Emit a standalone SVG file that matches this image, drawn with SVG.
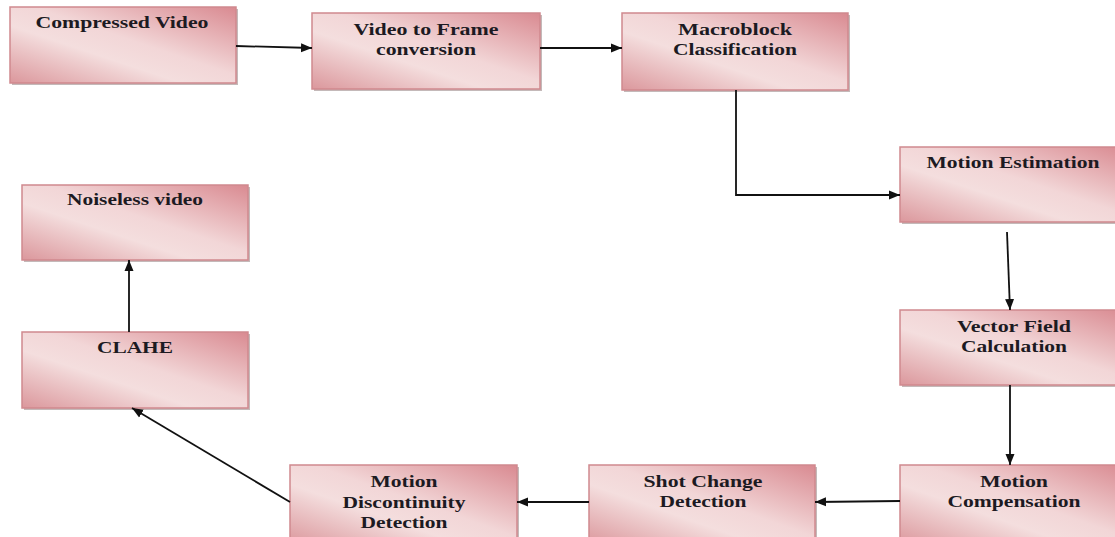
<svg xmlns="http://www.w3.org/2000/svg" width="1115" height="537" viewBox="0 0 1115 537">
<defs>
<linearGradient id="g" x1="1" y1="0" x2="0" y2="1">
<stop offset="0" stop-color="#d98a91"/>
<stop offset="0.45" stop-color="#f2d6d7"/>
<stop offset="0.62" stop-color="#f4dede"/>
<stop offset="1" stop-color="#db979c"/>
</linearGradient>
<marker id="ah" markerUnits="userSpaceOnUse" markerWidth="12" markerHeight="10" refX="11" refY="5" orient="auto">
<path d="M0,0.5 L11,5 L0,9.5 z" fill="#111"/>
</marker>
</defs>
<style>
.box{fill:url(#g);stroke:#d0898e;stroke-width:1.5}
.sh{fill:#9c8a8a;opacity:0.6}
.t{font-family:"Liberation Serif","Times New Roman",serif;font-weight:bold;font-size:17px;fill:#1c1a22;text-anchor:middle}
.c{fill:none;stroke:#111;stroke-width:1.8;marker-end:url(#ah)}
</style>
<rect width="1115" height="537" fill="#fff"/>

<g id="n1">
<rect class="sh" x="12" y="9" width="226" height="76"/>
<rect class="box" x="10" y="7" width="226" height="76"/>
<text class="t" x="122" y="28" textLength="173" lengthAdjust="spacingAndGlyphs">Compressed Video</text>
</g>
<g id="n2">
<rect class="sh" x="314" y="15" width="228" height="76"/>
<rect class="box" x="312" y="13" width="228" height="76"/>
<text class="t" x="426" y="35" textLength="145" lengthAdjust="spacingAndGlyphs">Video to Frame</text>
<text class="t" x="426" y="55" textLength="100" lengthAdjust="spacingAndGlyphs">conversion</text>
</g>
<g id="n3">
<rect class="sh" x="624" y="15" width="226" height="77"/>
<rect class="box" x="622" y="13" width="226" height="77"/>
<text class="t" x="735" y="35" textLength="114" lengthAdjust="spacingAndGlyphs">Macroblock</text>
<text class="t" x="735" y="55" textLength="124" lengthAdjust="spacingAndGlyphs">Classification</text>
</g>
<g id="n4">
<rect class="sh" x="902" y="149" width="226" height="75"/>
<rect class="box" x="900" y="147" width="226" height="75"/>
<text class="t" x="1013" y="168" textLength="173" lengthAdjust="spacingAndGlyphs">Motion Estimation</text>
</g>
<g id="n5">
<rect class="sh" x="902" y="312" width="226" height="75"/>
<rect class="box" x="900" y="310" width="226" height="75"/>
<text class="t" x="1014" y="332" textLength="114" lengthAdjust="spacingAndGlyphs">Vector Field</text>
<text class="t" x="1014" y="352" textLength="106" lengthAdjust="spacingAndGlyphs">Calculation</text>
</g>
<g id="n6">
<rect class="sh" x="902" y="467" width="226" height="80"/>
<rect class="box" x="900" y="465" width="226" height="80"/>
<text class="t" x="1014" y="487" textLength="68" lengthAdjust="spacingAndGlyphs">Motion</text>
<text class="t" x="1014" y="507" textLength="133" lengthAdjust="spacingAndGlyphs">Compensation</text>
</g>
<g id="n7">
<rect class="sh" x="591" y="467" width="226" height="80"/>
<rect class="box" x="589" y="465" width="226" height="80"/>
<text class="t" x="703" y="487" textLength="119" lengthAdjust="spacingAndGlyphs">Shot Change</text>
<text class="t" x="703" y="507" textLength="87" lengthAdjust="spacingAndGlyphs">Detection</text>
</g>
<g id="n8">
<rect class="sh" x="292" y="467" width="227" height="80"/>
<rect class="box" x="290" y="465" width="227" height="80"/>
<text class="t" x="404" y="487" textLength="67" lengthAdjust="spacingAndGlyphs">Motion</text>
<text class="t" x="404" y="508" textLength="123" lengthAdjust="spacingAndGlyphs">Discontinuity</text>
<text class="t" x="404" y="528" textLength="87" lengthAdjust="spacingAndGlyphs">Detection</text>
</g>
<g id="n9">
<rect class="sh" x="24" y="334" width="226" height="76"/>
<rect class="box" x="22" y="332" width="226" height="76"/>
<text class="t" x="135" y="353" textLength="76" lengthAdjust="spacingAndGlyphs">CLAHE</text>
</g>
<g id="n10">
<rect class="sh" x="24" y="187" width="226" height="75"/>
<rect class="box" x="22" y="185" width="226" height="75"/>
<text class="t" x="135" y="205" textLength="136" lengthAdjust="spacingAndGlyphs">Noiseless video</text>
</g>

<g id="connectors">
<line class="c" x1="236" y1="46" x2="312" y2="48"/>
<line class="c" x1="540" y1="48" x2="622" y2="48"/>
<polyline class="c" points="736,90 736,195 900,195"/>
<line class="c" x1="1007" y1="232" x2="1010" y2="310"/>
<line class="c" x1="1010" y1="385" x2="1010" y2="465"/>
<line class="c" x1="900" y1="501" x2="815" y2="502"/>
<line class="c" x1="589" y1="502" x2="517" y2="502"/>
<line class="c" x1="290" y1="502" x2="132" y2="408"/>
<line class="c" x1="129" y1="332" x2="129" y2="260"/>
</g>
</svg>
